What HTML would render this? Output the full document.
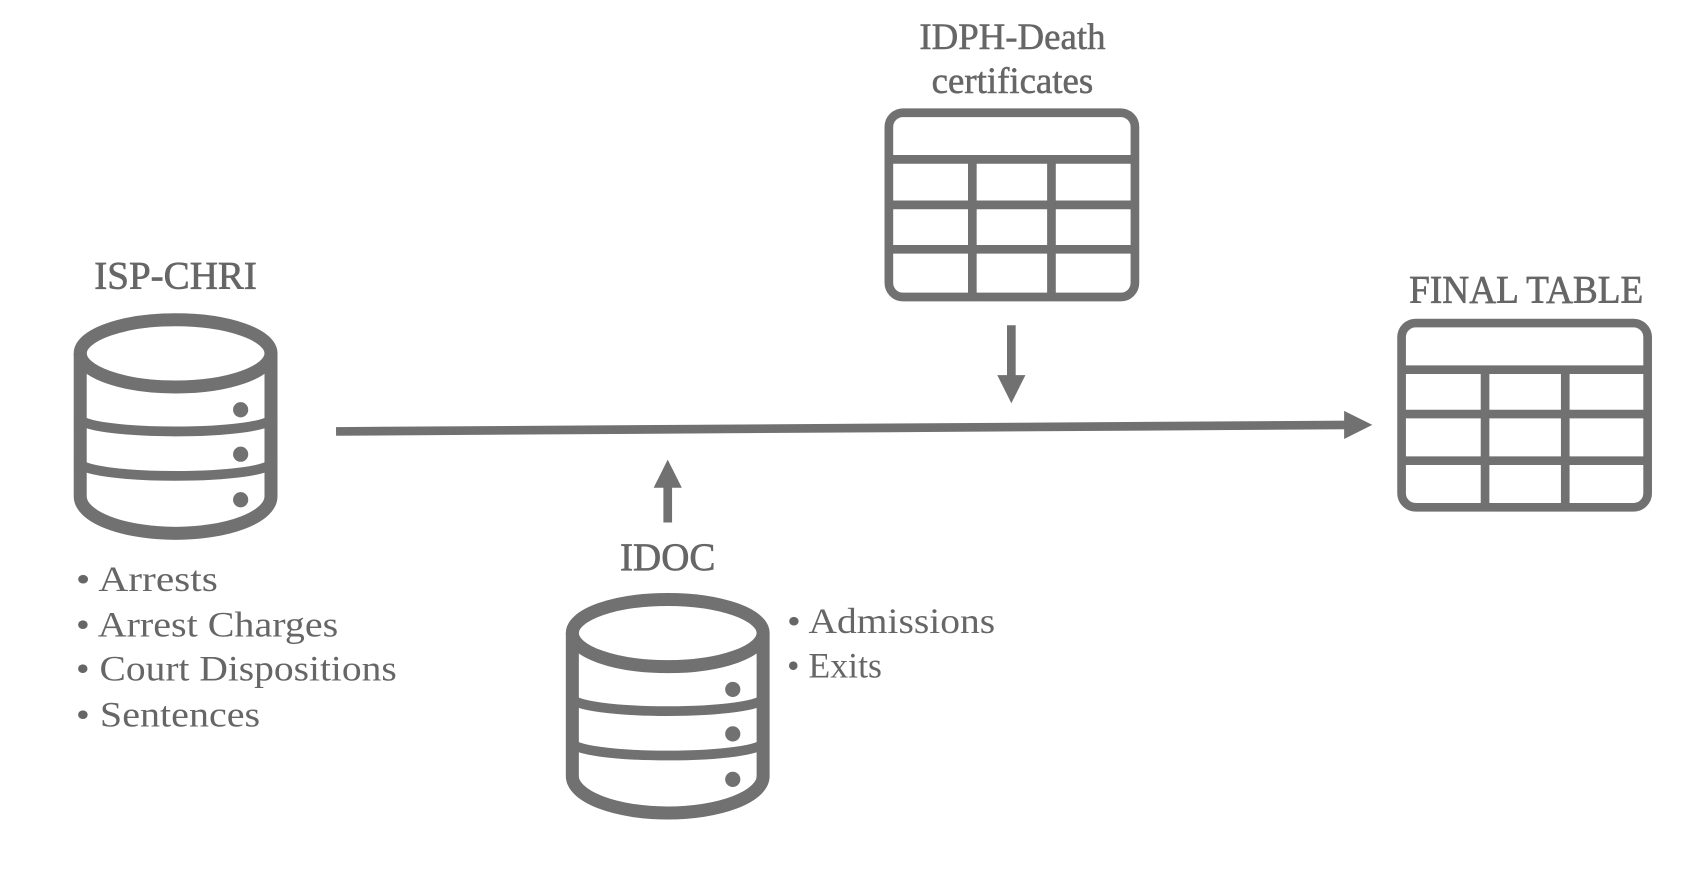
<!DOCTYPE html>
<html><head><meta charset="utf-8"><style>html,body{margin:0;padding:0;background:#fff}svg{display:block}</style></head>
<body>
<svg width="1691" height="871" viewBox="0 0 1560 803.5" xmlns="http://www.w3.org/2000/svg">
<g fill="none" stroke="#717171" stroke-width="12">
  <!-- DB 1 -->
  <ellipse cx="162" cy="326" rx="88" ry="31"/>
  <path d="M74 326 V458 A88 34 0 0 0 250 458 V326"/>
  <path d="M74 386 A88 12 0 0 0 250 386" stroke-width="9"/>
  <path d="M74 427 A88 12 0 0 0 250 427" stroke-width="9"/>
  <!-- DB 2 -->
  <g transform="translate(454,258)">
  <ellipse cx="162" cy="326" rx="88" ry="31"/>
  <path d="M74 326 V458 A88 34 0 0 0 250 458 V326"/>
  <path d="M74 386 A88 12 0 0 0 250 386" stroke-width="9"/>
  <path d="M74 427 A88 12 0 0 0 250 427" stroke-width="9"/>
  </g>
</g>
<g fill="#717171">
  <circle cx="222" cy="378" r="7"/><circle cx="222" cy="419" r="7"/><circle cx="222" cy="461" r="7"/>
  <circle cx="676" cy="636" r="7"/><circle cx="676" cy="677" r="7"/><circle cx="676" cy="719" r="7"/>
</g>
<!-- tables -->
<g fill="none" stroke="#717171" stroke-width="8">
  <rect x="820" y="104" width="227" height="170" rx="13"/>
  <line x1="820" y1="147" x2="1047" y2="147"/>
  <line x1="820" y1="189" x2="1047" y2="189"/>
  <line x1="820" y1="230" x2="1047" y2="230"/>
  <line x1="897" y1="147" x2="897" y2="274"/>
  <line x1="970" y1="147" x2="970" y2="274"/>
  <rect x="1293" y="298" width="227" height="170" rx="13"/>
  <line x1="1293" y1="341" x2="1520" y2="341"/>
  <line x1="1293" y1="382" x2="1520" y2="382"/>
  <line x1="1293" y1="425" x2="1520" y2="425"/>
  <line x1="1370" y1="341" x2="1370" y2="468"/>
  <line x1="1444" y1="341" x2="1444" y2="468"/>
</g>
<!-- arrows -->
<g stroke="#717171" stroke-width="8" fill="none">
  <line x1="310" y1="398" x2="1244" y2="392"/>
  <line x1="933" y1="300" x2="933" y2="348"/>
  <line x1="616" y1="482" x2="616" y2="448"/>
</g>
<g fill="#717171">
  <polygon points="1240,379 1266,392 1240,405"/>
  <polygon points="920,346 946,346 933,372"/>
  <polygon points="603,450 629,450 616,424"/>
</g>
<g font-family="Liberation Serif, serif" fill="#666">
  <text x="162" y="266" font-size="36" text-anchor="middle" stroke="#666" stroke-width="0.6">ISP-CHRI</text>
  <text x="934" y="45" font-size="34" text-anchor="middle" stroke="#666" stroke-width="0.5">IDPH-Death</text>
  <text x="934" y="86" font-size="34" text-anchor="middle" stroke="#666" stroke-width="0.5">certificates</text>
  <text x="1408" y="279" font-size="36" text-anchor="middle" textLength="216" lengthAdjust="spacingAndGlyphs" stroke="#666" stroke-width="0.6">FINAL TABLE</text>
  <text x="616" y="526" font-size="36" text-anchor="middle" stroke="#666" stroke-width="0.6">IDOC</text>
  <g font-size="33">
    <text x="70" y="545" textLength="131" lengthAdjust="spacingAndGlyphs">• Arrests</text>
    <text x="70" y="587" textLength="242" lengthAdjust="spacingAndGlyphs">• Arrest Charges</text>
    <text x="70" y="628" textLength="296" lengthAdjust="spacingAndGlyphs">• Court Dispositions</text>
    <text x="70" y="670" textLength="170" lengthAdjust="spacingAndGlyphs">• Sentences</text>
    <text x="726" y="584" textLength="192" lengthAdjust="spacingAndGlyphs">• Admissions</text>
    <text x="726" y="625">• Exits</text>
  </g>
</g>
</svg>
</body></html>
